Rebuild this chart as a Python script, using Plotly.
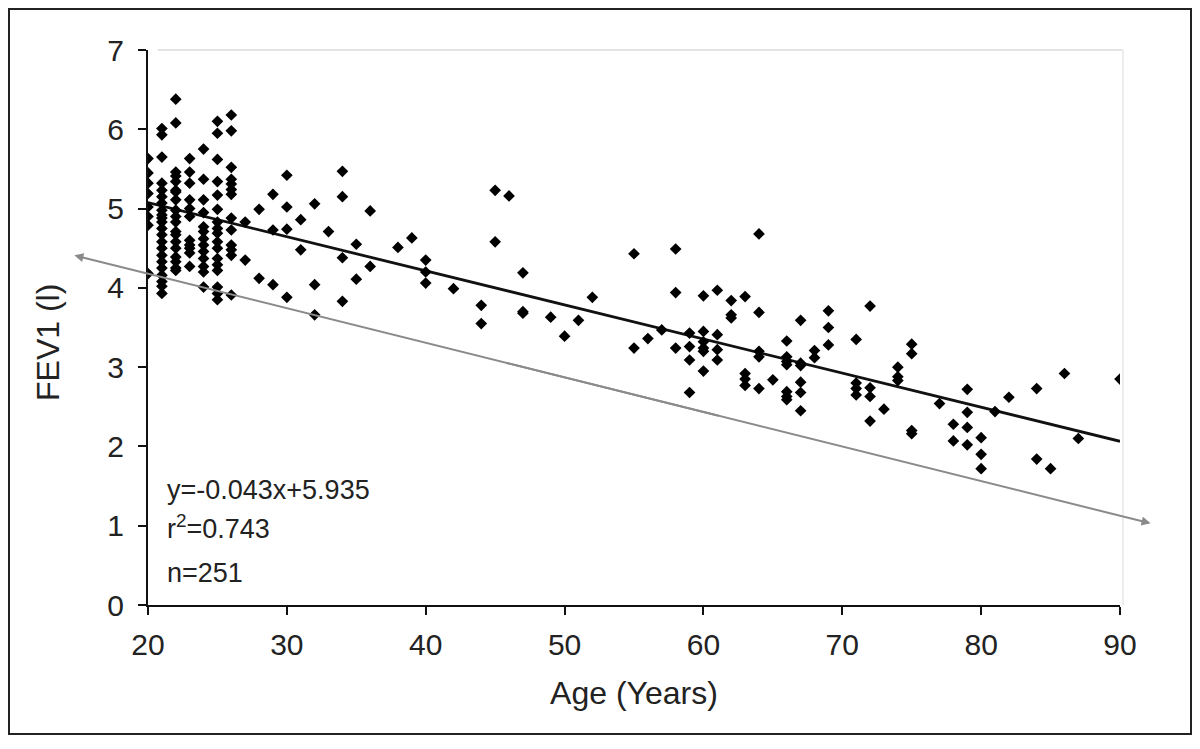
import plotly.graph_objects as go

# ---- data ----
age = (
    [20]*8 + [21]*22 + [22]*19 + [23]*11 + [24]*13 + [25]*17 + [26]*13 +
    [27]*2 + [28]*2 + [29]*3 + [30]*4 + [31]*2 + [32]*3 + [33] + [34]*4 +
    [35]*2 + [36]*2 + [38] + [39] + [40]*3 + [42] + [44]*2 + [45]*2 + [46] +
    [47]*3 + [49] + [50] + [51] + [52] + [55]*2 + [56] + [57] + [58]*3 +
    [59]*4 + [60]*6 + [61]*4 + [62]*3 + [63]*4 + [64]*5 + [65] + [66]*7 +
    [67]*6 + [68]*2 + [69]*3 + [71]*4 + [72]*4 + [73] + [74]*3 + [75]*4 +
    [77] + [78]*2 + [79]*4 + [80]*3 + [81] + [82] + [84]*2 + [85] + [86] +
    [87] + [90]
)
fev1 = [
    5.63, 5.45, 5.32, 5.19, 5.02, 4.90, 4.79, 4.18,                         # 20
    6.01, 5.93, 5.65, 5.32, 5.23, 5.15, 5.07, 4.98, 4.92, 4.88, 4.83, 4.75,
    4.67, 4.58, 4.50, 4.41, 4.33, 4.25, 4.16, 4.08, 4.02, 3.93,             # 21
    6.38, 6.08, 5.46, 5.41, 5.34, 5.23, 5.21, 5.11, 4.98, 4.90, 4.83, 4.71,
    4.67, 4.58, 4.50, 4.39, 4.33, 4.25, 4.22,                               # 22
    5.63, 5.46, 5.32, 5.11, 5.00, 4.90, 4.60, 4.54, 4.50, 4.44, 4.27,       # 23
    5.75, 5.37, 5.11, 4.95, 4.77, 4.71, 4.62, 4.54, 4.46, 4.37, 4.27, 4.20,
    4.01,                                                                   # 24
    6.10, 5.95, 5.62, 5.34, 5.17, 4.99, 4.83, 4.75, 4.69, 4.58, 4.50, 4.37,
    4.29, 4.22, 4.01, 3.93, 3.85,                                           # 25
    6.18, 5.98, 5.52, 5.37, 5.31, 5.24, 5.18, 4.88, 4.73, 4.54, 4.48, 4.41,
    3.91,                                                                   # 26
    4.83, 4.35,            # 27
    4.99, 4.12,            # 28
    5.18, 4.73, 4.04,      # 29
    5.42, 5.02, 4.74, 3.88,  # 30
    4.86, 4.48,            # 31
    5.06, 4.04, 3.66,      # 32
    4.71,                  # 33
    5.47, 5.15, 4.38, 3.83,  # 34
    4.55, 4.11,            # 35
    4.97, 4.27,            # 36
    4.51,                  # 38
    4.63,                  # 39
    4.35, 4.20, 4.06,      # 40
    3.99,                  # 42
    3.78, 3.55,            # 44
    5.23, 4.58,            # 45
    5.16,                  # 46
    4.19, 3.70, 3.68,      # 47
    3.63,                  # 49
    3.39,                  # 50
    3.59,                  # 51
    3.88,                  # 52
    4.43, 3.24,            # 55
    3.36,                  # 56
    3.47,                  # 57
    4.49, 3.94, 3.24,      # 58
    3.43, 3.26, 3.09, 2.68,  # 59
    3.90, 3.45, 3.32, 3.24, 3.20, 2.95,  # 60
    3.97, 3.41, 3.22, 3.09,  # 61
    3.84, 3.66, 3.62,      # 62
    3.89, 2.92, 2.85, 2.77,  # 63
    4.68, 3.69, 3.20, 3.13, 2.73,  # 64
    2.84,                  # 65
    3.33, 3.13, 3.07, 3.03, 2.69, 2.63, 2.59,  # 66
    3.59, 3.05, 3.02, 2.81, 2.68, 2.45,  # 67
    3.21, 3.12,            # 68
    3.71, 3.50, 3.28,      # 69
    3.35, 2.80, 2.73, 2.65,  # 71
    3.77, 2.74, 2.63, 2.32,  # 72
    2.47,                  # 73
    3.00, 2.88, 2.83,      # 74
    3.29, 3.17, 2.20, 2.16,  # 75
    2.54,                  # 77
    2.28, 2.07,            # 78
    2.72, 2.43, 2.24, 2.02,  # 79
    2.11, 1.90, 1.72,      # 80
    2.44,                  # 81
    2.62,                  # 82
    2.73, 1.84,            # 84
    1.72,                  # 85
    2.92,                  # 86
    2.10,                  # 87
    2.85,                  # 90
]

slope = -0.043
intercept = 5.935
fit_x = [20, 90]
fit_y = [slope * x + intercept for x in fit_x]

lower_x = [14.7, 92.2]
lower_y = [4.41, 1.03]

x_ticks = [20, 30, 40, 50, 60, 70, 80, 90]
y_ticks = [0, 1, 2, 3, 4, 5, 6, 7]

stat_lines = ["y=-0.043x+5.935", "r<sup>2</sup>=0.743", "n=251"]
stat_y = [1.45, 0.98, 0.40]

# ---- figure ----
# the page body adds an 8px offset, so margins are reduced by 8
W, H = 1200, 749
L, R, T, B = 140, 88, 42, 152
FONT = "Liberation Sans, Arial, sans-serif"
pw = W - L - R
ph = H - T - B

fig = go.Figure()

fig.add_trace(go.Scatter(
    x=fit_x, y=fit_y, mode="lines",
    line=dict(color="#111111", width=2.8), hoverinfo="skip", showlegend=False,
))
fig.add_trace(go.Scatter(
    x=age, y=fev1, mode="markers",
    marker=dict(symbol="diamond", size=9, color="#000000", line=dict(width=0)),
    showlegend=False,
))


def lerp_lower(f):
    return (lower_x[0] + f * (lower_x[1] - lower_x[0]),
            lower_y[0] + f * (lower_y[1] - lower_y[0]))


annotations = []
# lower line drawn as two overlapping arrows (not clipped by the plot area)
for (ex, ey), f in zip(zip(lower_x, lower_y), [0.6, 0.4]):
    tx, ty = lerp_lower(f)
    annotations.append(dict(
        x=ex, y=ey, xref="x", yref="y", ax=tx, ay=ty, axref="x", ayref="y",
        text="", showarrow=True, arrowhead=2, arrowsize=0.9, arrowwidth=2,
        arrowcolor="#8a8a8a", standoff=0, startstandoff=0,
    ))
for txt, yy in zip(stat_lines, stat_y):
    annotations.append(dict(
        x=21.2, y=yy, xref="x", yref="y", text=txt, showarrow=False,
        xanchor="left", yanchor="middle",
        font=dict(family=FONT, size=27, color="#222222"),
    ))
# y-axis title
annotations.append(dict(
    x=(40 - L) / pw, y=(H - B - 335) / ph, xref="paper", yref="paper",
    text="FEV1 (l)", textangle=-90, showarrow=False,
    xanchor="center", yanchor="middle",
    font=dict(family=FONT, size=32, color="#222222"),
))

shapes = [
    # outer frame
    dict(type="rect", xref="paper", yref="paper",
         x0=(1 - L) / pw, x1=(1183 - L) / pw,
         y0=(H - B - 726) / ph, y1=(H - B - 1) / ph,
         line=dict(color="#222222", width=2), fillcolor="rgba(0,0,0,0)"),
    # faint top and right plot border
    dict(type="line", xref="x domain", yref="y domain", x0=0.01, x1=1.003, y0=1, y1=1,
         line=dict(color="#e4e4e4", width=2)),
    dict(type="line", xref="x domain", yref="y domain", x0=1.003, x1=1.003, y0=0.0, y1=1,
         line=dict(color="#ececec", width=2)),
]

fig.update_layout(
    width=W, height=H, autosize=False,
    margin=dict(l=L, r=R, t=T, b=B, pad=0),
    paper_bgcolor="white", plot_bgcolor="white",
    font=dict(family=FONT, size=30, color="#222222"),
    annotations=annotations, shapes=shapes,
    xaxis=dict(
        range=[20, 90], tickvals=x_ticks, ticktext=[str(v) for v in x_ticks],
        showgrid=False, zeroline=False, showline=True, linecolor="#111111", linewidth=2,
        ticks="outside", ticklen=8, tickwidth=2, tickcolor="#111111",
        ticklabelstandoff=4,
        tickfont=dict(family=FONT, size=30, color="#222222"),
        title=dict(text="Age (Years)", standoff=22,
                   font=dict(family=FONT, size=32, color="#222222")),
    ),
    yaxis=dict(
        range=[0, 7], tickvals=y_ticks, ticktext=[str(v) for v in y_ticks],
        showgrid=False, zeroline=False, showline=True, linecolor="#111111", linewidth=2,
        ticks="outside", ticklen=8, tickwidth=2, tickcolor="#111111",
        ticklabelstandoff=8,
        tickfont=dict(family=FONT, size=30, color="#222222"),
    ),
)

fig.write_html("out.html")
